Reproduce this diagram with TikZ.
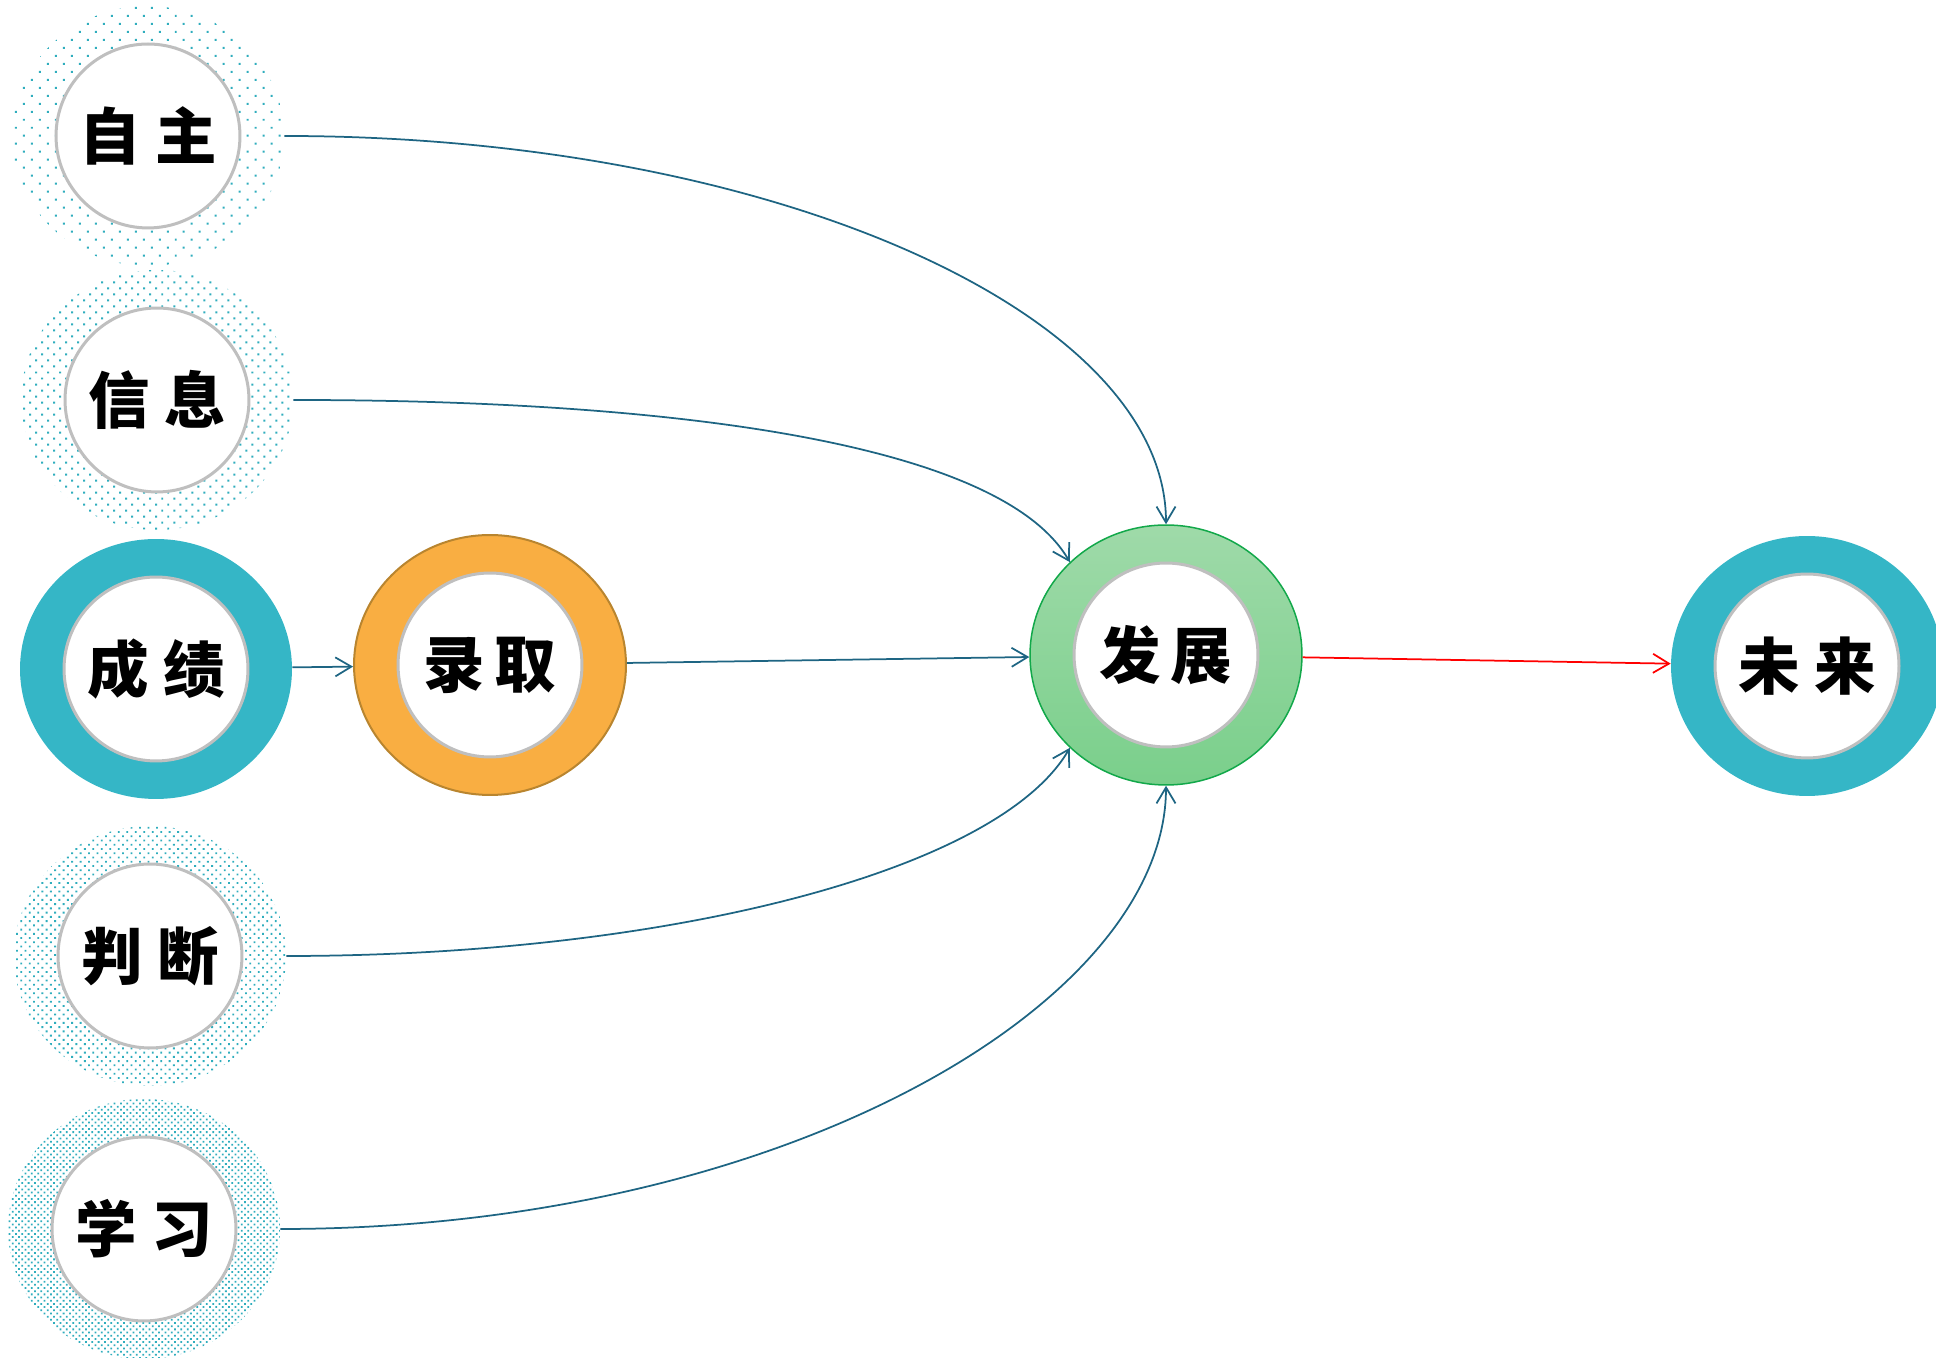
\documentclass[tikz,border=0pt]{standalone}
\usepackage{fontspec}
\newfontfamily\cjk{Noto Sans CJK SC}
\usetikzlibrary{shapes.geometric,patterns.meta,arrows.meta}

\definecolor{ringteal}{HTML}{35B6C6}
\definecolor{dotteal}{HTML}{2FADBD}
\definecolor{ringorange}{HTML}{F9AE42}
\definecolor{orangeline}{HTML}{B9852F}
\definecolor{greentop}{HTML}{9FDAA9}
\definecolor{greenbottom}{HTML}{7ACF8B}
\definecolor{greenline}{HTML}{12A84A}
\definecolor{coreline}{HTML}{BFBFBF}
\definecolor{linkblue}{HTML}{1E6583}

\begin{document}
\begin{tikzpicture}[x=0.02cm, y=0.02cm,
  ring/.style={ellipse, minimum width=5.44cm, minimum height=5.2cm, inner sep=0pt},
  dotring/.style 2 args={ring, pattern={Dots[distance=#1, radius=#2, angle=45]}, pattern color=dotteal},
  core/.style={circle, minimum size=3.68cm, inner sep=0pt, fill=white, draw=coreline,
    line width=0.06cm, font=\cjk\bfseries\fontsize{35}{35}\selectfont},
  link/.style={draw=linkblue, line width=0.035cm, -{Straight Barb[length=0.32cm, width=0.38cm]}}]
\useasboundingbox (0,0) rectangle (1936,1358);

% left column
\node[dotring={0.226cm}{0.028cm}] (zz) at (148,1222) {};
\node[core] (zzt) at (zz) {自\hspace{0.3cm}主};
\node[dotring={0.17cm}{0.028cm}] (xx) at (157,958) {};
\node[core] (xxt) at (xx) {信\hspace{0.3cm}息};
\node[ring, fill=ringteal] (cj) at (156,689) {};
\node[core] (cjt) at (cj) {成\hspace{0.3cm}绩};
\node[dotring={0.12cm}{0.026cm}] (pd) at (150,402) {};
\node[core] (pdt) at (pd) {判\hspace{0.3cm}断};
\node[dotring={0.09cm}{0.025cm}] (xxi) at (144,129) {};
\node[core] (xxit) at (xxi) {学\hspace{0.3cm}习};

% middle and right
\node[ring, fill=ringorange, draw=orangeline, line width=0.04cm] (lq) at (490,693) {};
\node[core] (lqt) at (lq) {录\hspace{0.2cm}取};
\node[ring, top color=greentop, bottom color=greenbottom, draw=greenline, line width=0.03cm] (fz) at (1166,703) {};
\node[core] (fzt) at (fz) {发\hspace{0.2cm}展};
\node[ring, fill=ringteal] (wl) at (1807,692) {};
\node[core] (wlt) at (wl) {未\hspace{0.3cm}来};

\draw[link] (zz) to[out=0, in=90, out looseness=1.3, in looseness=0.56] (fz);
\draw[link] (xx) to[out=0, in=120, out looseness=1.2, in looseness=0.45] (fz.136);
\draw[link] (cj) -- (lq);
\draw[link] (lq) -- (fz);
\draw[link] (pd) to[out=0, in=-120, out looseness=1.2, in looseness=0.45] (fz.-136);
\draw[link] (xxi) to[out=0, in=-90, out looseness=1.3, in looseness=0.56] (fz);
\draw[link, draw=red] (fz) -- (wl);
\end{tikzpicture}
\end{document}
